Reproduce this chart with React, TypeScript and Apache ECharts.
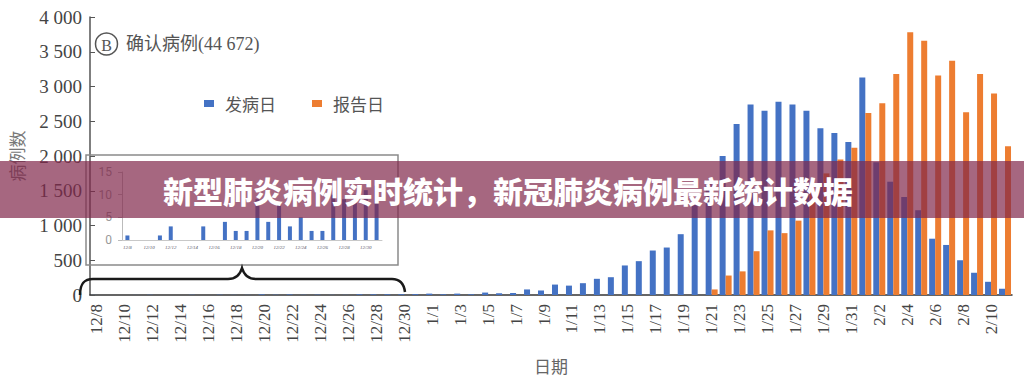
import React, { useEffect, useRef } from 'react';
import * as echarts from 'echarts';

// ---------- data ----------
const dates = [
  '12/8', '12/9', '12/10', '12/11', '12/12', '12/13', '12/14', '12/15', '12/16', '12/17', '12/18', '12/19',
  '12/20', '12/21', '12/22', '12/23', '12/24', '12/25', '12/26', '12/27', '12/28', '12/29', '12/30', '12/31',
  '1/1', '1/2', '1/3', '1/4', '1/5', '1/6', '1/7', '1/8', '1/9', '1/10', '1/11', '1/12', '1/13', '1/14', '1/15', '1/16',
  '1/17', '1/18', '1/19', '1/20', '1/21', '1/22', '1/23', '1/24', '1/25', '1/26', '1/27', '1/28', '1/29', '1/30', '1/31',
  '2/1', '2/2', '2/3', '2/4', '2/5', '2/6', '2/7', '2/8', '2/9', '2/10', '2/11',
];

// onset date (发病日)
const onsetDec = [1, 0, 0, 1, 3, 0, 0, 3, 0, 4, 2, 2, 9, 4, 8, 3, 5, 2, 2, 10, 9, 10, 11, 12];
const onsetJan = [20, 10, 20, 10, 35, 25, 30, 80, 65, 150, 135, 170, 233, 256, 425, 487, 640, 683, 875,
  1300, 1650, 2000, 2460, 2740, 2650, 2780, 2740, 2650, 2400, 2330, 2200];
const onsetFeb = [3130, 1910, 1630, 1410, 1220, 810, 720, 500, 320, 190, 90];

// report date (报告日)
const reportDec = [0, 0, 0, 0, 0, 0, 0, 0, 0, 0, 0, 0, 0, 0, 0, 0, 0, 0, 0, 0, 0, 0, 0, 0];
const reportJan = [0, 0, 0, 0, 0, 0, 0, 0, 0, 0, 0, 0, 0, 0, 0, 0, 0, 0, 0, 0,
  80, 280, 340, 630, 930, 890, 1070, 1500, 1750, 1950, 2120];
const reportFeb = [2620, 2760, 3180, 3780, 3660, 3160, 3370, 2630, 3180, 2900, 2140];

const onset = [...onsetDec, ...onsetJan, ...onsetFeb];
const report = [...reportDec, ...reportJan, ...reportFeb];

// inset: December detail
const insetDates = dates.slice(0, 24);
const insetValues = onsetDec;

const legendOnset = '发病日';
const legendReport = '报告日';
const panelTitle = '确认病例(44 672)';
const bannerText = '新型肺炎病例实时统计，新冠肺炎病例最新统计数据';

// ---------- styles ----------
const BLUE = '#4472C4';
const ORANGE = '#ED7D31';
const SERIF = "'Liberation Serif', 'Times New Roman', serif";
const MIX = "'Liberation Serif', 'Noto Sans CJK SC', serif";
const CJK = "'Noto Sans CJK SC', sans-serif";

const bracePath =
  'M80 295 C80 285 83 279 93 279 L228 279 C236 279 240 275 242 268 C244 275 248 279 256 279 L392 279 C400 279 404 284 405 292';
echarts.graphic.registerShape('brace', echarts.graphic.extendPath(bracePath, {}));

const fmtThousands = (v: number) => {
  const s = String(Math.round(v));
  return s.length > 3 ? s.slice(0, s.length - 3) + ' ' + s.slice(s.length - 3) : s;
};

export default function App() {
  const ref = useRef<HTMLDivElement>(null);
  useEffect(() => {
    if (!ref.current) return;
    const chart = echarts.init(ref.current, null, { renderer: 'svg' });
    chart.setOption({
      animation: false,
      backgroundColor: '#ffffff',
      legend: {
        data: [legendOnset, legendReport],
        left: 199,
        top: 90,
        icon: 'rect',
        itemWidth: 10,
        itemHeight: 7,
        itemGap: 36,
        textStyle: { fontSize: 17, color: '#555', fontFamily: CJK, padding: [0, 0, 0, 6] },
      },
      grid: [
        { left: 80, right: 12, top: 17, bottom: 85 },
        { left: 122, top: 172, width: 260, height: 68 },
      ],
      xAxis: [
        {
          type: 'category',
          gridIndex: 0,
          data: dates,
          axisLine: { lineStyle: { color: '#333', width: 1.5 } },
          axisTick: { show: false },
          axisLabel: { interval: 1, rotate: 90, margin: 9, fontFamily: SERIF, fontSize: 17, color: '#444' },
          name: '日期',
          nameLocation: 'middle',
          nameGap: 62,
          nameTextStyle: { fontFamily: CJK, fontSize: 17, color: '#666' },
        },
        {
          type: 'category',
          gridIndex: 1,
          data: insetDates,
          axisLine: { lineStyle: { color: '#c8c8c8' } },
          axisTick: { show: false },
          axisLabel: { interval: 1, fontSize: 5, fontStyle: 'italic', color: '#556', margin: 5, fontFamily: SERIF },
        },
      ],
      yAxis: [
        {
          type: 'value',
          gridIndex: 0,
          min: 0,
          max: 4000,
          interval: 500,
          axisLine: { show: true, lineStyle: { color: '#555', width: 1.5 } },
          axisTick: { show: true, inside: true, length: 5, lineStyle: { color: '#555' } },
          splitLine: { show: false },
          axisLabel: { formatter: fmtThousands, fontFamily: SERIF, fontSize: 19, color: '#444', margin: 8 },
          name: '病例数',
          nameLocation: 'middle',
          nameRotate: 90,
          nameGap: 65,
          nameTextStyle: { fontFamily: CJK, fontSize: 17, color: '#777' },
        },
        {
          type: 'value',
          gridIndex: 1,
          min: 0,
          max: 15,
          interval: 5,
          axisLine: { show: true, lineStyle: { color: '#bbb' } },
          axisTick: { show: true, length: 4, lineStyle: { color: '#bbb' } },
          splitLine: { show: false },
          axisLabel: { fontSize: 12, color: '#999', margin: 10, fontFamily: 'Roboto' },
        },
      ],
      series: [
        { name: legendOnset, type: 'bar', data: onset, barWidth: 6, barGap: '0%', itemStyle: { color: BLUE } },
        { name: legendReport, type: 'bar', data: report, barWidth: 6, itemStyle: { color: ORANGE } },
        {
          name: 'inset', type: 'bar', xAxisIndex: 1, yAxisIndex: 1, data: insetValues, barWidth: 4,
          itemStyle: { color: BLUE },
        },
      ],
      graphic: [
        {
          type: 'rect', z: 1, silent: true,
          shape: { x: 86, y: 155, width: 312, height: 110 },
          style: { fill: 'none', stroke: '#8a8a8a', lineWidth: 1.5 },
        },
        {
          type: 'brace', x: 0, y: 0, z: 5, silent: true,
          style: { fill: 'none', stroke: '#1a1a1a', lineWidth: 2.5 },
        },
        {
          type: 'circle', z: 5, silent: true,
          shape: { cx: 106.5, cy: 44, r: 11 },
          style: { fill: 'none', stroke: '#555', lineWidth: 1.5 },
        },
        {
          type: 'text', z: 5, silent: true, x: 106.5, y: 45,
          style: { text: 'B', fill: '#555', font: `16px ${SERIF}`, align: 'center', verticalAlign: 'middle' },
        },
        {
          type: 'text', z: 5, silent: true, x: 126, y: 44,
          style: { text: panelTitle, fill: '#555', font: `18px ${MIX}`, align: 'left', verticalAlign: 'middle' },
        },
        {
          type: 'rect', z: 100, silent: true,
          shape: { x: 0, y: 161, width: 1024, height: 57 },
          style: { fill: 'rgba(128,38,74,0.7)' },
        },
        {
          type: 'text', z: 101, silent: true, x: 508, y: 190,
          style: {
            text: bannerText, fill: '#ffffff', font: `900 30px ${CJK}`,
            align: 'center', verticalAlign: 'middle',
          },
        },
      ],
    });
    return () => chart.dispose();
  }, []);
  return (
    <div
      ref={ref}
      style={{ position: 'fixed', left: 0, top: 0, width: 1024, height: 380, background: '#fff' }}
    />
  );
}
